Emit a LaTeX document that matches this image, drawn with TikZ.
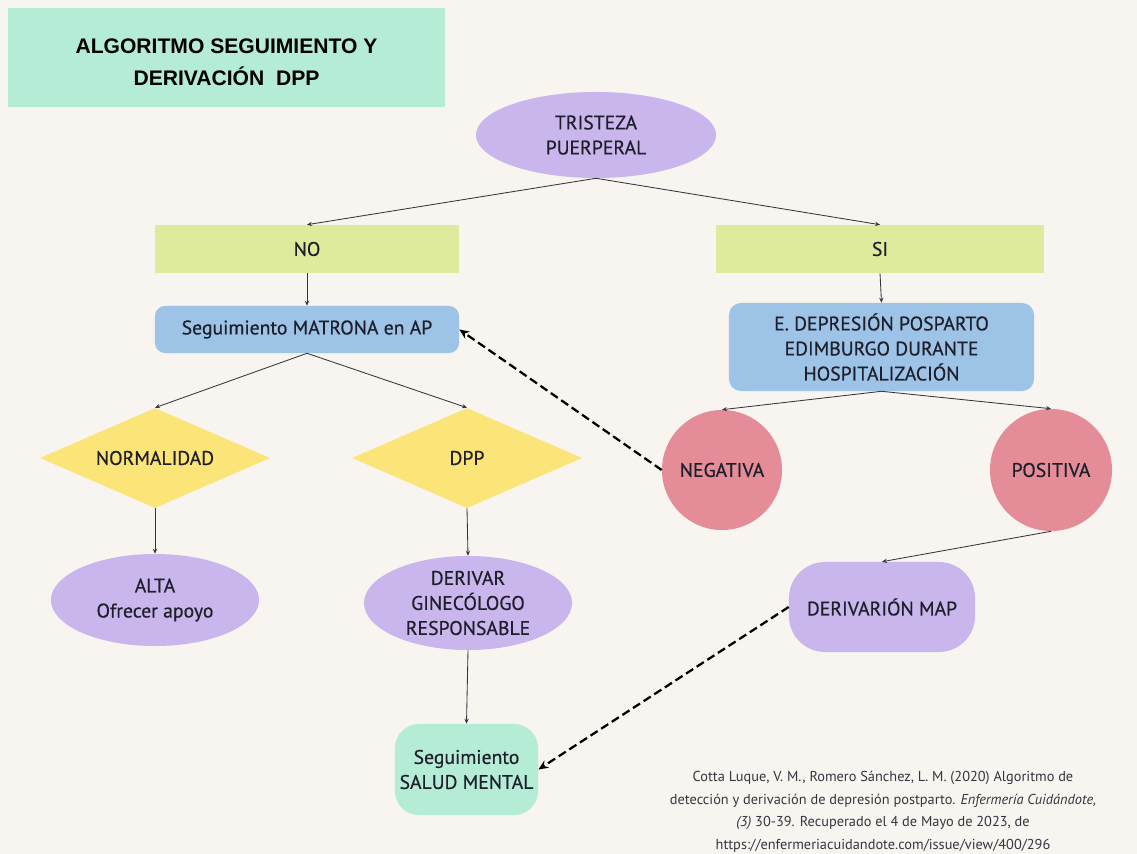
\documentclass[tikz,border=0pt]{standalone}
\usepackage{fontspec}
\setmainfont{PT Sans}
\newfontfamily\boxfam{PT Sans}[FakeBold=0.5]
\newfontfamily\titlefont{Liberation Sans}
\usetikzlibrary{arrows.meta,shapes.geometric}
\definecolor{bgcream}{HTML}{F8F4EF}
\definecolor{mint}{HTML}{B4ECD5}
\definecolor{lavender}{HTML}{C8B6EC}
\definecolor{lime}{HTML}{DEEB9D}
\definecolor{skyblue}{HTML}{9DC3E7}
\definecolor{sunyellow}{HTML}{FBE478}
\definecolor{rosepink}{HTML}{E48C97}
\definecolor{inkdark}{HTML}{1F1F2B}
\newcommand{\boxfont}{\boxfam\fontsize{14}{17.8}\selectfont}

\begin{document}
\begin{tikzpicture}[x=0.025cm, y=-0.025cm,
    every node/.style={text=inkdark, align=center, font=\boxfont},
    link/.style={-{Stealth[length=3.5pt,width=3pt]}, line width=0.6pt, draw=inkdark!90},
    backlink/.style={-{Stealth[length=7pt,width=6pt]}, line width=1.6pt, dash pattern=on 6pt off 3pt, draw=black}]
    \fill[bgcream] (0,0) rectangle (1137,854);
    \useasboundingbox (0,0) rectangle (1137,854);

    % title
    \node[fill=mint, minimum width=10.925cm, minimum height=2.475cm, font=\titlefont\bfseries\fontsize{15}{23}\selectfont, text=black]
        (title) at (226.5,57.5) {\rule{0pt}{17pt}ALGORITMO SEGUIMIENTO Y\\DERIVACIÓN\ \ DPP};

    % first question
    \node[ellipse, fill=lavender, minimum width=6cm, minimum height=2.15cm, inner sep=0pt]
        (tristeza) at (596,135) {TRISTEZA\\PUERPERAL};
    \node[fill=lime, minimum width=7.6cm, minimum height=1.2cm]
        (no) at (307,249) {NO};
    \node[fill=lime, minimum width=8.2cm, minimum height=1.2cm]
        (si) at (880,249) {SI};

    \draw[link] (tristeza.south) -- (no.north);
    \draw[link] (tristeza.south) -- (si.north);

    % NO branch
    \node[fill=skyblue, rounded corners=0.25cm, minimum width=7.6cm, minimum height=1.175cm]
        (matrona) at (307,329.5) {Seguimiento MATRONA en AP};
    \node[diamond, aspect=2.3, fill=sunyellow, minimum width=5.75cm, minimum height=2.5cm, inner sep=0pt]
        (normal) at (155,458) {NORMALIDAD};
    \node[diamond, aspect=2.3, fill=sunyellow, minimum width=5.75cm, minimum height=2.5cm, inner sep=0pt]
        (dpp) at (467,458) {DPP};
    \node[ellipse, fill=lavender, minimum width=5.2cm, minimum height=2.3cm, inner sep=0pt]
        (alta) at (155,600) {ALTA\\Ofrecer apoyo};
    \node[ellipse, fill=lavender, minimum width=5.2cm, minimum height=2.35cm, inner sep=0pt]
        (gineco) at (468,603) {DERIVAR\\GINECÓLOGO\\RESPONSABLE};
    \node[fill=mint, rounded corners=0.6cm, minimum width=3.575cm, minimum height=2.275cm]
        (salud) at (466.5,769.5) {Seguimiento\\SALUD MENTAL};

    \draw[link] (no.south) -- (matrona.north);
    \draw[link] (matrona.south) -- (normal.north);
    \draw[link] (matrona.south) -- (dpp.north);
    \draw[link] (normal.south) -- (alta.north);
    \draw[link] (dpp.south) -- (gineco.north);
    \draw[link] (gineco.south) -- (salud.north);

    % SI branch
    \node[fill=skyblue, rounded corners=0.3cm, minimum width=7.625cm, minimum height=2.2cm]
        (edimburgo) at (881.5,347) {E. DEPRESIÓN POSPARTO\\EDIMBURGO DURANTE\\HOSPITALIZACIÓN};
    \node[circle, fill=rosepink, minimum size=3cm, inner sep=0pt]
        (negativa) at (722,470) {NEGATIVA};
    \node[circle, fill=rosepink, minimum size=3.05cm, inner sep=0pt]
        (positiva) at (1051,470) {POSITIVA};
    \node[fill=lavender, rounded corners=0.9cm, minimum width=4.65cm, minimum height=2.25cm]
        (map) at (882,607) {DERIVARIÓN MAP};

    \draw[link] (si.south) -- (edimburgo.north);
    \draw[link] (edimburgo.south) -- (negativa.north);
    \draw[link] (edimburgo.south) -- (positiva.north);
    \draw[link] (positiva.south) -- (map.north);

    % dashed returns
    \draw[backlink] (negativa.west) -- (matrona.east);
    \draw[backlink] (map.west) -- (salud.east);

    % source
    \node[font=\fontsize{10.2}{16}\selectfont, text=inkdark!90]
        (fuente) at (883,812) {Cotta Luque, V. M., Romero Sánchez, L. M. (2020) Algoritmo de\\detección y derivación de depresión postparto. \textit{Enfermería Cuidándote,}\\\textit{(3)} 30-39. Recuperado el 4 de Mayo de 2023, de\\https://enfermeriacuidandote.com/issue/view/400/296};
\end{tikzpicture}
\end{document}
